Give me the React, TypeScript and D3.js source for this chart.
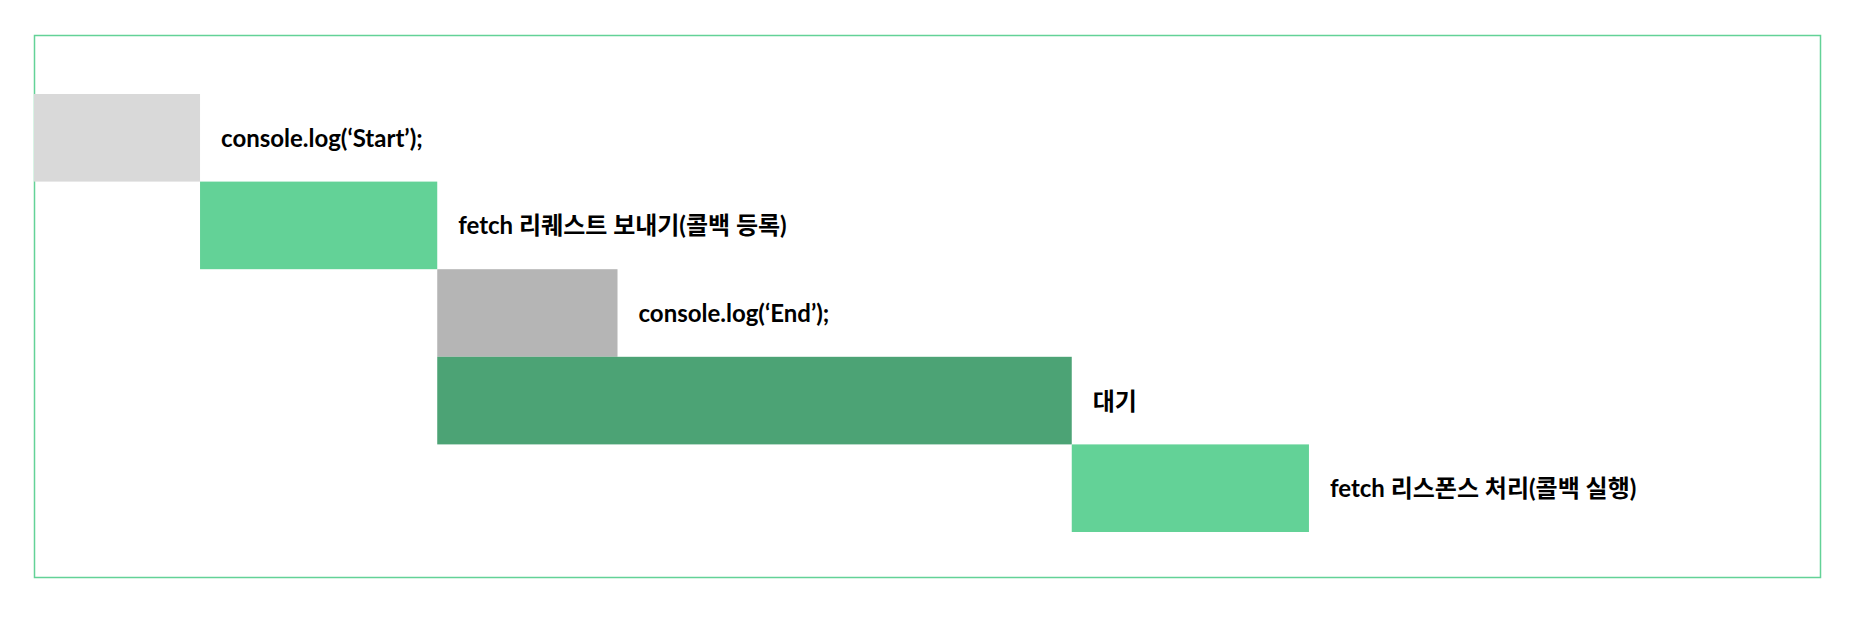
import * as d3 from 'd3';

const tasks = ["console.log('Start');", 'fetch 리퀘스트 보내기(콜백 등록)', "console.log('End');", '대기', 'fetch 리스폰스 처리(콜백 실행)'];
const starts = [0, 0.7, 1.7, 1.7, 4.375];
const ends = [0.7, 1.7, 2.46, 4.375, 5.375];
const colors = ['#d9d9d9', '#63d297', '#b5b5b5', '#4ca375', '#63d297'];

const W = 1860;
const H = 618;

export default function App() {
  const x = d3.scaleLinear().domain([0, 1]).range([34, 34 + 237.2]);
  const y = d3.scaleBand<number>().domain(d3.range(tasks.length)).range([94, 94 + 87.6 * tasks.length]);
  const labels = tasks.map((t) => t.replace(/'/g, '\u2018').replace(/\u2018\)/, '\u2019)'));

  return (
    <svg width={W} height={H} style={{ position: 'absolute', left: 0, top: 0, background: '#fff' }}>
      <rect x={34.5} y={35.5} width={1786} height={542} fill="none" stroke="#63d297" strokeWidth={1.5} />
      {tasks.map((_, i) => (
        <g key={i}>
          <rect x={x(starts[i])} y={y(i)!} width={x(ends[i]) - x(starts[i])} height={y.bandwidth()} fill={colors[i]} />
          <text
            x={x(ends[i]) + 21}
            y={y(i)! + y.bandwidth() / 2 + 9}
            fontFamily="Lato, 'Noto Sans CJK KR', sans-serif"
            fontWeight="bold"
            fontSize={24}
            fill="#000"
          >
            {labels[i]}
          </text>
        </g>
      ))}
    </svg>
  );
}
